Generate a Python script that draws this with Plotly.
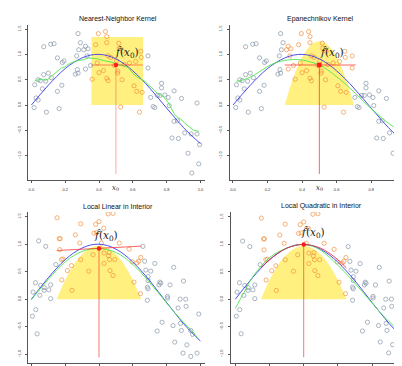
import plotly.graph_objects as go

# ---------------- data: top row (one sample) ----------------
top_x = [0.016, 0.02, 0.028, 0.04, 0.04, 0.053, 0.065, 0.073, 0.073, 0.085, 0.089, 0.10, 0.114,
         0.118, 0.134, 0.154, 0.154, 0.164, 0.18, 0.183, 0.193, 0.26, 0.268, 0.272, 0.276, 0.276,
         0.28, 0.29, 0.31, 0.32, 0.32, 0.33, 0.335, 0.35,
         0.36, 0.38, 0.39, 0.40, 0.396, 0.426, 0.438, 0.446, 0.446, 0.446, 0.454, 0.454, 0.47,
         0.49, 0.503, 0.51, 0.512, 0.517, 0.52, 0.528, 0.536, 0.54, 0.55, 0.58, 0.607, 0.617,
         0.623, 0.64, 0.647, 0.65, 0.655,
         0.69, 0.69, 0.706, 0.72, 0.73, 0.745, 0.76, 0.77, 0.77, 0.79, 0.81, 0.815, 0.832, 0.844,
         0.844, 0.864, 0.87, 0.888, 0.907, 0.927, 0.945, 0.949, 0.98, 0.98, 0.99, 0.995]
top_y = [-0.05, 0.40, 0.14, 0.10, 0.50, 0.48, 0.32, 0.60, 1.15, 0.47, -0.14, 0.63, 1.20,
         0.54, 1.21, 0.93, 0.27, -0.07, 0.39, 0.84, 0.87, 0.61, 0.97, 0.70, 0.63, 1.41,
         1.09, 1.23, 1.09, 1.16, 0.71, 0.97, 1.11, 0.78,
         0.51, 1.19, 0.83, 0.64, 1.41, 0.68, 1.45, 1.35, 1.23, 0.53, 0.48, 0.97, 0.94,
         0.78, 0.87, 0.63, 0.67, 1.22, 1.12, -0.04, 0.50, 1.06, 0.80, 0.83, 0.38, 0.86,
         0.27, -0.14, 1.06, 0.94, 0.25,
         0.97, 0.73, 0.15, -0.03, -0.05, 0.19, 0.19, 0.34, 0.43, 0.20, 0.15, -0.01, -0.65, 0.28,
         -0.32, -0.31, -0.66, 0.13, -0.55, -0.95, -0.57, -1.34, 0.04, -0.57, -1.16, -0.78]

# ---------------- data: bottom row (another sample) ----------------
bot_x = [0.006, 0.01, 0.024, 0.026, 0.034, 0.043, 0.05, 0.055, 0.075, 0.075, 0.085, 0.103,
         0.114, 0.114, 0.145,
         0.152, 0.165, 0.170, 0.168, 0.178, 0.18, 0.187, 0.213, 0.237, 0.24, 0.26, 0.286, 0.292,
         0.292, 0.34, 0.365, 0.37, 0.38, 0.385, 0.40, 0.414, 0.428, 0.43, 0.43, 0.454, 0.456,
         0.46, 0.463, 0.465, 0.483, 0.483, 0.493, 0.52, 0.578, 0.596, 0.607, 0.625, 0.635,
         0.647, 0.645,
         0.66, 0.67, 0.677, 0.686, 0.686, 0.69, 0.69, 0.69, 0.706, 0.73, 0.744, 0.755, 0.76,
         0.765, 0.773, 0.805, 0.806, 0.82, 0.838, 0.842, 0.848, 0.868, 0.88, 0.882, 0.887,
         0.897, 0.90, 0.913, 0.915, 0.92, 0.943, 0.943, 0.953, 0.98, 0.99]
bot_y = [-0.31, 0.13, 0.30, -0.19, -0.63, 1.06, 0.07, 0.25, 0.21, 0.16, 0.96, 0.17,
         0.26, 0.01, 0.63,
         1.48, 1.10, 1.10, 0.90, 0.72, 0.35, 0.73, 0.52, 0.61, 0.16, 1.17, 1.02, 1.37,
         0.72, 0.51, 0.81, 1.20, 1.36, 1.21, 1.41, 1.02, 1.29, 0.84, 0.65, 1.55, 0.79,
         0.85, 0.72, 0.52, 1.56, 0.43, 0.72, 1.02, 0.91, 0.68, 0.31, 0.66, 0.69,
         0.76, 0.10,
         0.96, 0.69, 0.53, 0.22, -0.02, 0.19, 0.34, 0.41, 0.51, 0.65, -0.58, 0.26, 0.31,
         0.29, -0.42, 0.05, 0.02, 0.26, -0.48, 0.58, -0.78, -0.16, 0.0, -0.44, -0.57,
         -0.98, 0.33, 0.0, -0.13, -0.83, -0.57, -1.04, -0.64, -0.98, -0.27]

# ---------------- true function (blue) ----------------
truth_x = [0.0, 0.05, 0.1, 0.15, 0.2, 0.25, 0.3, 0.35, 0.4, 0.45, 0.5, 0.55, 0.6, 0.65, 0.7,
           0.75, 0.8, 0.85, 0.9, 0.95, 1.0]
truth_y = [0.0, 0.20, 0.39, 0.565, 0.72, 0.84, 0.93, 0.985, 1.0, 0.975, 0.91, 0.81, 0.675,
           0.515, 0.335, 0.14, -0.06, -0.255, -0.445, -0.61, -0.76]

# ---------------- fitted curves (green) ----------------
nn_x = [0.020, 0.059, 0.080, 0.099, 0.118, 0.138, 0.158, 0.178, 0.197, 0.217, 0.247, 0.276,
        0.306, 0.335, 0.365, 0.394, 0.424, 0.454, 0.483, 0.513, 0.542, 0.572, 0.602, 0.631,
        0.651, 0.671, 0.690, 0.710, 0.730, 0.750, 0.769, 0.789, 0.809, 0.828, 0.848, 0.868,
        0.888, 0.907, 0.927, 0.957, 0.990]
nn_y = [0.48, 0.51, 0.49, 0.51, 0.57, 0.62, 0.68, 0.73, 0.75, 0.80, 0.85, 0.88, 0.89, 0.93,
        0.92, 0.91, 0.88, 0.86, 0.84, 0.80, 0.78, 0.74, 0.62, 0.54, 0.51, 0.47, 0.40, 0.35,
        0.28, 0.22, 0.19, 0.14, 0.05, -0.06, -0.19, -0.25, -0.29, -0.36, -0.41, -0.49, -0.52]

epa_x = [0.02, 0.05, 0.1, 0.15, 0.2, 0.25, 0.3, 0.35, 0.4, 0.45, 0.5, 0.55, 0.6, 0.65, 0.7,
         0.75, 0.8, 0.85, 0.9, 0.95, 0.995]
epa_y = [0.47, 0.49, 0.55, 0.65, 0.76, 0.84, 0.88, 0.90, 0.89, 0.85, 0.79, 0.69, 0.56, 0.42,
         0.26, 0.09, -0.07, -0.22, -0.36, -0.47, -0.56]

ll_x = [0.0, 0.05, 0.1, 0.15, 0.2, 0.25, 0.3, 0.35, 0.4, 0.45, 0.5, 0.55, 0.6, 0.65, 0.7,
        0.75, 0.8, 0.85, 0.9, 0.95, 0.98]
ll_y = [-0.01, 0.18, 0.36, 0.53, 0.68, 0.79, 0.87, 0.91, 0.92, 0.90, 0.85, 0.76, 0.63, 0.48,
        0.30, 0.12, -0.07, -0.25, -0.42, -0.58, -0.69]

lq_x = [0.0, 0.05, 0.1, 0.15, 0.2, 0.25, 0.3, 0.35, 0.4, 0.45, 0.5, 0.55, 0.6, 0.65, 0.7,
        0.75, 0.8, 0.85, 0.9, 0.95, 0.99]
lq_y = [-0.17, 0.12, 0.40, 0.60, 0.76, 0.86, 0.93, 0.98, 1.0, 0.97, 0.89, 0.77, 0.62, 0.46,
        0.29, 0.11, -0.07, -0.25, -0.41, -0.56, -0.69]

# ---------------- local fits at x0 (red) ----------------
top_x0, top_fit = 0.5, 0.79
bot_x0_lin, bot_fit_lin = 0.4, 0.92
bot_x0_quad, bot_fit_quad = 0.4, 1.0
lin_line_x = [0.15, 0.65]
lin_line_y = [0.885, 0.965]
quad_line_x = [0.15, 0.2, 0.25, 0.3, 0.35, 0.4, 0.45, 0.5, 0.55, 0.6, 0.65]
quad_line_y = [0.58, 0.72, 0.84, 0.93, 0.98, 1.0, 0.98, 0.93, 0.84, 0.72, 0.57]

# ---------------- windows / kernels ----------------
nn_window = [0.355, 0.66]
nn_height = 1.34
kern_u = [-1.0, -0.8, -0.6, -0.4, -0.2, 0.0, 0.2, 0.4, 0.6, 0.8, 1.0]
kern_h = [0.0, 0.36, 0.64, 0.84, 0.96, 1.0, 0.96, 0.84, 0.64, 0.36, 0.0]
top_kernel = dict(center=0.5, half=0.2, peak=1.26)
bot_kernel = dict(center=0.4, half=0.25, peak=0.97)

titles = ["Nearest-Neighbor Kernel", "Epanechnikov Kernel",
          "Local Linear in Interior", "Local Quadratic in Interior"]
tick_vals = [0.0, 0.2, 0.4, 0.6, 0.8, 1.0]
ytick_vals = [-1.0, -0.5, 0.0, 0.5, 1.0, 1.5]

# ---------------- styles ----------------
GREY = "#8796a8"
ORANGE = "#f2913d"
YELLOW = "#fff07f"
BLUE = "#3a3ae6"
GREEN = "#4ee84e"
RED = "#ff1a1a"

W, H = 402, 366
panels = [
    dict(xd=(20, 197), yd=(17, 172), xr=(-0.02, 1.027), yr=(-1.478, 1.579), sx=3),
    dict(xd=(221.7, 401), yd=(17, 172), xr=(-0.019, 1.019), yr=(-1.478, 1.579), sx=3),
    dict(xd=(20, 197), yd=(204, 355), xr=(-0.02, 1.027), yr=(-1.16, 1.585), sx=2),
    dict(xd=(222.7, 401), yd=(204, 355), xr=(-0.027, 1.016), yr=(-1.164, 1.591), sx=2),
]

fig = go.Figure()


def ax(i):
    return ("x" if i == 0 else f"x{i+1}"), ("y" if i == 0 else f"y{i+1}")


def add(i, tr):
    xa, ya = ax(i)
    tr.update(xaxis=xa, yaxis=ya, showlegend=False, hoverinfo="skip")
    fig.add_trace(tr)


def kernel_poly(k):
    xs = [k["center"] + u * k["half"] for u in kern_u]
    ys = [h * k["peak"] for h in kern_h]
    return xs, ys


def points(i, xs, ys, lo, hi):
    gx = [x for x, y in zip(xs, ys) if not (lo <= x <= hi)]
    gy = [y for x, y in zip(xs, ys) if not (lo <= x <= hi)]
    ox = [x for x, y in zip(xs, ys) if lo <= x <= hi]
    oy = [y for x, y in zip(xs, ys) if lo <= x <= hi]
    add(i, go.Scatter(x=gx, y=gy, mode="markers",
                      marker=dict(symbol="circle-open", size=4.2, color=GREY, line=dict(width=0.7))))
    add(i, go.Scatter(x=ox, y=oy, mode="markers",
                      marker=dict(symbol="circle-open", size=4.2, color=ORANGE, line=dict(width=0.7))))


def truth(i, xs):
    lo, hi = min(xs), max(xs)
    tx = [x for x in truth_x if lo - 0.03 <= x <= hi + 0.03]
    ty = [y for x, y in zip(truth_x, truth_y) if lo - 0.03 <= x <= hi + 0.03]
    add(i, go.Scatter(x=tx, y=ty, mode="lines", line=dict(color=BLUE, width=0.9, shape="spline")))


# ---- panel 1: nearest neighbour ----
add(0, go.Scatter(x=[nn_window[0], nn_window[1], nn_window[1], nn_window[0], nn_window[0]],
                  y=[0, 0, nn_height, nn_height, 0], mode="lines", fill="toself",
                  fillcolor=YELLOW, line=dict(width=0)))
points(0, top_x, top_y, nn_window[0], nn_window[1])
truth(0, top_x)
add(0, go.Scatter(x=nn_x, y=nn_y, mode="lines", line=dict(color=GREEN, width=0.9)))
add(0, go.Scatter(x=[top_x0, top_x0], y=[min(top_y) - 0.02, top_fit], mode="lines",
                  line=dict(color="rgba(255,60,60,0.45)", width=1)))
add(0, go.Scatter(x=nn_window, y=[top_fit, top_fit], mode="lines",
                  line=dict(color="rgba(255,40,40,0.55)", width=1)))
add(0, go.Scatter(x=[top_x0], y=[top_fit], mode="markers",
                  marker=dict(color=RED, size=4.5, symbol="circle")))

# ---- panel 2: Epanechnikov ----
kx, ky = kernel_poly(top_kernel)
add(1, go.Scatter(x=kx, y=ky, mode="lines", fill="toself", fillcolor=YELLOW,
                  line=dict(width=0, shape="spline")))
lo2, hi2 = top_kernel["center"] - top_kernel["half"], top_kernel["center"] + top_kernel["half"]
points(1, top_x, top_y, lo2, hi2)
truth(1, top_x)
add(1, go.Scatter(x=epa_x, y=epa_y, mode="lines", line=dict(color=GREEN, width=0.9, shape="spline")))
add(1, go.Scatter(x=[top_x0, top_x0], y=[min(top_y) - 0.02, top_fit], mode="lines",
                  line=dict(color="rgba(255,50,50,0.75)", width=1)))
add(1, go.Scatter(x=[lo2, hi2 + 0.01], y=[top_fit, top_fit], mode="lines",
                  line=dict(color="rgba(255,50,50,0.75)", width=1)))
add(1, go.Scatter(x=[top_x0], y=[top_fit], mode="markers",
                  marker=dict(color=RED, size=4.5, symbol="square")))

# ---- panel 3: local linear ----
kx, ky = kernel_poly(bot_kernel)
add(2, go.Scatter(x=kx, y=ky, mode="lines", fill="toself", fillcolor=YELLOW,
                  line=dict(width=0, shape="spline")))
lo3, hi3 = bot_kernel["center"] - bot_kernel["half"], bot_kernel["center"] + bot_kernel["half"]
points(2, bot_x, bot_y, lo3, hi3)
truth(2, bot_x)
add(2, go.Scatter(x=ll_x, y=ll_y, mode="lines", line=dict(color=GREEN, width=0.9, shape="spline")))
add(2, go.Scatter(x=[bot_x0_lin, bot_x0_lin], y=[min(bot_y) - 0.02, bot_fit_lin], mode="lines",
                  line=dict(color="rgba(240,70,60,0.8)", width=0.9)))
add(2, go.Scatter(x=lin_line_x, y=lin_line_y, mode="lines",
                  line=dict(color="rgba(255,50,50,0.85)", width=0.9)))
add(2, go.Scatter(x=[bot_x0_lin], y=[bot_fit_lin], mode="markers",
                  marker=dict(color=RED, size=4.5, symbol="circle")))

# ---- panel 4: local quadratic ----
add(3, go.Scatter(x=kx, y=ky, mode="lines", fill="toself", fillcolor=YELLOW,
                  line=dict(width=0, shape="spline")))
points(3, bot_x, bot_y, lo3, hi3)
truth(3, bot_x)
add(3, go.Scatter(x=lq_x, y=lq_y, mode="lines", line=dict(color=GREEN, width=0.9, shape="spline")))
add(3, go.Scatter(x=[bot_x0_quad, bot_x0_quad], y=[min(bot_y) - 0.02, bot_fit_quad], mode="lines",
                  line=dict(color="rgba(240,70,60,0.8)", width=0.9)))
add(3, go.Scatter(x=quad_line_x, y=quad_line_y, mode="lines",
                  line=dict(color="rgba(230,30,60,0.9)", width=0.9, shape="spline")))
add(3, go.Scatter(x=[bot_x0_quad], y=[bot_fit_quad], mode="markers",
                  marker=dict(color=RED, size=4.5, symbol="circle")))

# ---------------- axes ----------------
layout = dict(width=W, height=H, margin=dict(l=0, r=0, t=0, b=0),
              paper_bgcolor="white", plot_bgcolor="white", template="none",
              showlegend=False)
annotations = []
for i, p in enumerate(panels):
    xa, ya = ax(i)
    xkey = "xaxis" if i == 0 else f"xaxis{i+1}"
    ykey = "yaxis" if i == 0 else f"yaxis{i+1}"
    layout[xkey] = dict(domain=[p["xd"][0] / W, p["xd"][1] / W], range=list(p["xr"]),
                        anchor=ya, showgrid=False, zeroline=False, showline=True,
                        linecolor="#555", linewidth=0.7, ticks="outside", ticklen=2,
                        tickwidth=0.6, tickcolor="#555", tickvals=tick_vals,
                        tickformat=".1f", tickfont=dict(size=4, color="#333",
                                                        family="Liberation Sans"),
                        ticklabelstandoff=p["sx"], automargin=False, fixedrange=True)
    layout[ykey] = dict(domain=[1 - p["yd"][1] / H, 1 - p["yd"][0] / H], range=list(p["yr"]),
                        anchor=xa, showgrid=False, zeroline=False, showline=True,
                        linecolor="#555", linewidth=0.7, ticks="outside", ticklen=2,
                        tickwidth=0.6, tickcolor="#555", tickvals=ytick_vals,
                        tickformat=".1f", tickangle=-90,
                        tickfont=dict(size=4, color="#333", family="Liberation Sans"),
                        ticklabelstandoff=3, automargin=False, fixedrange=True)
    # title
    annotations.append(dict(text=titles[i], xref="paper", yref="paper",
                            x=(p["xd"][0] + p["xd"][1]) / 2 / W + 0.003,
                            y=1 - (p["yd"][0] - 6) / H, xanchor="center", yanchor="middle",
                            showarrow=False,
                            font=dict(size=7, family="Liberation Sans", color="#111")))

# f-hat labels
fhat = "<i>f\u0302</i>(<i>x</i><sub>0</sub>)"
for i, (lx, ly) in enumerate([(0.565, 1.02), (0.575, 1.03), (0.44, 1.14), (0.455, 1.21)]):
    xa, ya = ax(i)
    annotations.append(dict(text=fhat, x=lx, y=ly, xref=xa, yref=ya, showarrow=False,
                            xanchor="center", yanchor="middle",
                            font=dict(size=10.5, family="DejaVu Serif", color="#222")))
# x0 tick labels on the top panels
for i in (0, 1):
    xa, ya = ax(i)
    annotations.append(dict(text="<i>x</i><sub>0</sub>", x=top_x0, xref=xa, yref="paper",
                            y=1 - 180.5 / H, showarrow=False, xanchor="center",
                            yanchor="middle",
                            font=dict(size=7, family="DejaVu Serif", color="#222")))
layout["annotations"] = annotations
fig.update_layout(**layout)
fig.write_html("out.html")
